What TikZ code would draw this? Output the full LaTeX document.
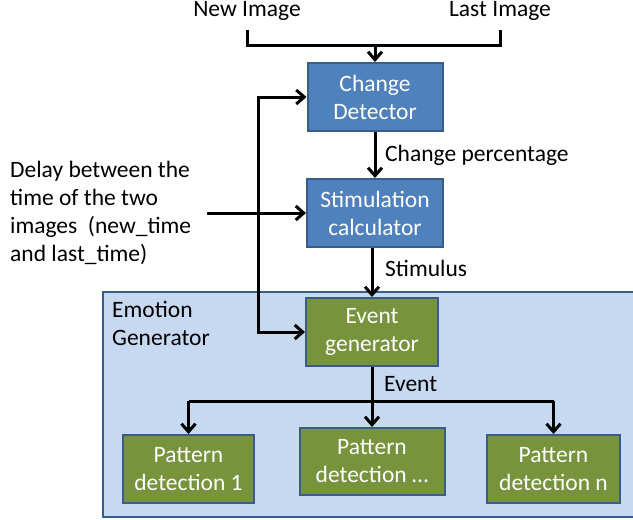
\documentclass[tikz,border=0pt]{standalone}
\usepackage{fontspec}
\setmainfont{Carlito}
\usetikzlibrary{arrows.meta,calc}
\definecolor{boxblue}{HTML}{4F81BD}
\definecolor{boxedge}{HTML}{385D8A}
\definecolor{boxgreen}{HTML}{77933C}
\definecolor{lightbg}{HTML}{C6D9F1}
\tikzset{
  base/.style={font=\fontsize{23.5}{28}\selectfont},
  bluebox/.style={base, draw=boxedge, line width=2pt, fill=boxblue, text=white, align=center, inner sep=0pt},
  greenbox/.style={base, draw=boxedge, line width=2pt, fill=boxgreen, text=white, align=center, inner sep=0pt},
  lbl/.style={base, inner sep=0pt, text=black},
  wire/.style={line width=3pt, draw=black},
  arr/.style={wire, -{Straight Barb[length=8pt,width=14pt,line width=3pt]}},
  dblarr/.style={wire, {Straight Barb[length=8pt,width=14pt,line width=3pt]}-{Straight Barb[length=8pt,width=14pt,line width=3pt]}}
}
\begin{document}
\begin{tikzpicture}[x=1pt,y=-1pt]
\useasboundingbox (0,0) rectangle (633,520);
% Emotion generator background
\node[draw=boxedge, line width=2pt, fill=lightbg, minimum width=540pt, minimum height=225pt, anchor=north west, inner sep=0pt] (emo) at (102,291) {};
\node[lbl, align=left, anchor=north west] (emolbl) at (112,301) {Emotion\\Generator};

% top inputs
\node[lbl] (new) at (247,11) {New Image};
\node[lbl] (last) at (500,11) {Last Image};

% boxes
\node[bluebox, minimum width=135pt, minimum height=68pt] (cd) at (375,97) {Change\\Detector};
\node[bluebox, minimum width=136pt, minimum height=68pt] (sc) at (375,213) {Stimulation\\calculator};
\node[greenbox, minimum width=132pt, minimum height=68pt] (eg) at (372,332) {Event\\generator};
\node[greenbox, minimum width=131pt, minimum height=68pt] (pd1) at (188.5,469) {Pattern\\detection 1};
\node[greenbox, minimum width=145pt, minimum height=67pt] (pd2) at (372,461.5) {Pattern\\detection \dots};
\node[greenbox, minimum width=133pt, minimum height=68pt] (pdn) at (553.5,469) {Pattern\\detection n};

% delay text
\node[lbl, align=left, anchor=north west] (delay) at (10,161) {Delay between the\\time of the two\\images\ \ (new\_time\\and last\_time)};
\coordinate (dstart) at (207,213);

% coordinates
\coordinate (jn) at (247,45);
\coordinate (jl) at (500,45);
\coordinate (jc) at (375,45);
\coordinate (lpb) at (258,332);
\coordinate (br) at (372,401);
\coordinate (brl) at (188.5,401);
\coordinate (brr) at (553.5,401);

% connectors
\draw[wire] (247,30) -- (jn) -- (jl) -- (500,30);
\draw[arr] (jc) -- (cd.north);
\draw[arr] (cd.south) -- (sc.north);
\draw[arr] (sc.south -| eg.north) -- (eg.north);
\draw[dblarr] (cd.west) -| (lpb) -- (eg.west);
\draw[arr] (dstart |- sc.west) -- (sc.west);
\draw[wire] (eg.south) -- (br);
\draw[arr] (br) -- (pd2.north);
\draw[arr] (brl) -- (pd1.north);
\draw[arr] (brr) -- (pdn.north);
\draw[wire] (brl) -- (brr);

% labels
\node[lbl, anchor=west] (lcp) at (385,155) {Change percentage};
\node[lbl, anchor=west] (lst) at (385,268) {Stimulus};
\node[lbl, anchor=west] (lev) at (384,384) {Event};
\end{tikzpicture}
\end{document}
